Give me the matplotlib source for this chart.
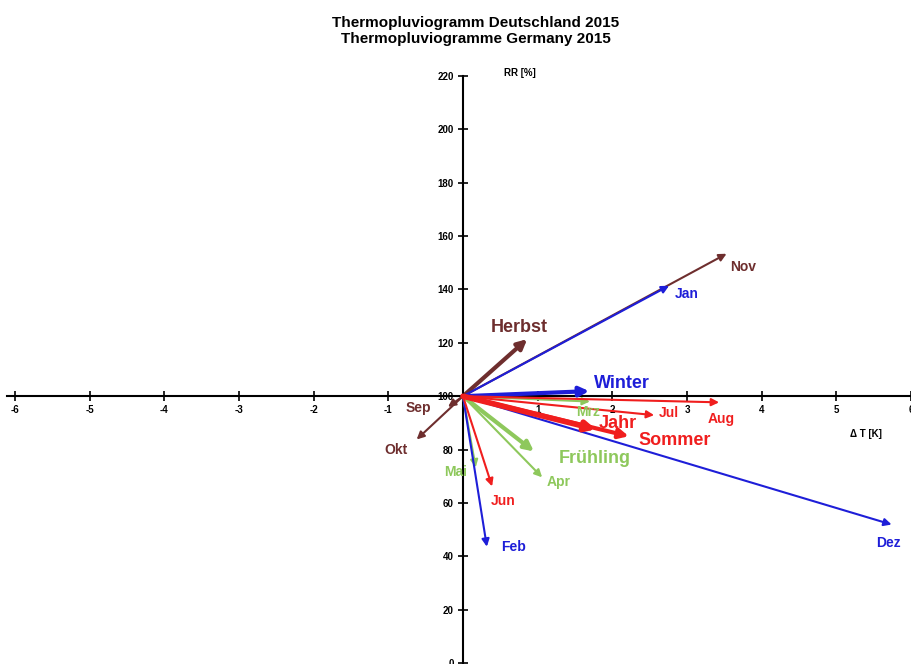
import matplotlib.pyplot as plt

plt.rcParams['font.family'] = ['Liberation Sans', 'DejaVu Sans']

# Data: (Delta T [K], RR [%]) relative to reference
months = ['Jan', 'Feb', 'Mrz', 'Apr', 'Mai', 'Jun', 'Jul', 'Aug', 'Sep', 'Okt', 'Nov', 'Dez']
month_dt = [2.76, 0.32, 1.70, 1.06, 0.17, 0.39, 2.56, 3.43, -0.20, -0.62, 3.53, 5.74]
month_rr = [141.4, 43.6, 98.0, 69.6, 73.3, 66.2, 92.9, 97.7, 96.0, 83.8, 153.4, 51.9]
month_season = ['W', 'W', 'F', 'F', 'F', 'S', 'S', 'S', 'H', 'H', 'H', 'W']

seasons = ['Winter', 'Frühling', 'Sommer', 'Herbst', 'Jahr']
season_dt = [1.69, 0.95, 2.22, 0.86, 1.78]
season_rr = [101.9, 79.3, 85.0, 121.4, 87.6]
season_key = ['W', 'F', 'S', 'H', 'S']

colors = {'W': '#1e1ed8', 'F': '#8ec85c', 'S': '#f01e1e', 'H': '#6e2e2e'}
zorders = {'H': 2, 'F': 3, 'W': 4, 'S': 5}

# label offsets in pixels (layout only)
month_off = {'Jan': (18, -8), 'Feb': (27, 0), 'Mrz': (-2, -10), 'Apr': (17, -5),
             'Mai': (-20, -5), 'Jun': (11, -15), 'Jul': (15, 2), 'Aug': (2, -17),
             'Sep': (-30, -1), 'Okt': (-21, -11), 'Nov': (17, -13), 'Dez': (-3, -18)}
season_off = {'Winter': (33, 8), 'Frühling': (61, -7), 'Sommer': (46, -4),
              'Herbst': (-8, 12), 'Jahr': (22, 6)}

fig = plt.figure(figsize=(9.11, 6.64), dpi=100)
ax = fig.add_axes([0.0082, 0.0015, 0.9918, 0.892])
ax.set_xlim(-6.1, 6.0)
ax.set_ylim(0, 222)

# axes crossing at (0, 100)
for s in ['top', 'right']:
    ax.spines[s].set_visible(False)
ax.spines['left'].set_position(('data', 0))
ax.spines['bottom'].set_position(('data', 100))
ax.spines['left'].set_bounds(0, 220)
ax.spines['left'].set_linewidth(1.5)
ax.spines['bottom'].set_linewidth(1.5)

xt = list(range(-6, 7))
ax.set_xticks(xt)
ax.set_xticklabels([str(v) if v != 0 else '' for v in xt], fontsize=7, fontweight='bold')
yt = list(range(0, 221, 20))
ax.set_yticks(yt)
ax.set_yticklabels([str(v) for v in yt], fontsize=7, fontweight='bold')
ax.tick_params(axis='both', direction='inout', length=7, width=1.2, pad=3)

ax.text(0.55, 221, 'RR [%]', fontsize=7, fontweight='bold', ha='left', va='center')
ax.text(5.4, 86, 'Δ T [K]', fontsize=7, fontweight='bold', ha='center', va='center')

# month arrows
for m, dt, rr, k in zip(months, month_dt, month_rr, month_season):
    c = colors[k]
    ax.annotate('', xy=(dt, rr), xytext=(0, 100),
                arrowprops=dict(arrowstyle='-|>', color=c, lw=1.5, mutation_scale=11,
                                shrinkA=0, shrinkB=0), zorder=zorders[k])
    ax.annotate(m, xy=(dt, rr), xytext=month_off[m], textcoords='offset pixels',
                color=c, fontsize=10, fontweight='bold', ha='center', va='center', zorder=6)

# season arrows
for s, dt, rr, k in zip(seasons, season_dt, season_rr, season_key):
    c = colors[k]
    lw = 4 if s == 'Jahr' else 3
    ax.annotate('', xy=(dt, rr), xytext=(0, 100),
                arrowprops=dict(arrowstyle='-|>', color=c, lw=lw, mutation_scale=14,
                                shrinkA=0, shrinkB=0), zorder=zorders[k] + 0.5)
    ax.annotate(s, xy=(dt, rr), xytext=season_off[s], textcoords='offset pixels',
                color=c, fontsize=13, fontweight='bold', ha='center', va='center', zorder=6)

fig.text(0.522, 0.953, 'Thermopluviogramm Deutschland 2015\nThermopluviogramme Germany 2015',
         ha='center', va='center', fontsize=11, fontweight='bold', linespacing=1.15)

fig.savefig('out.png', dpi=100)
